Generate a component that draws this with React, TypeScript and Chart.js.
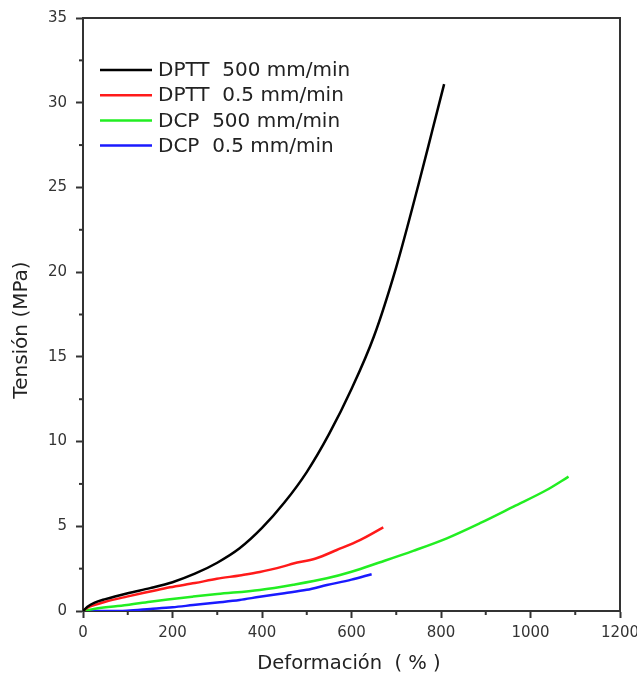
import React, { useEffect, useRef } from "react";
import { Chart, registerables } from "chart.js";

Chart.register(...registerables);

const xTicksStep = 200;
const yTicksStep = 5;

const dptt500X = [0, 10, 25, 50, 100, 150, 200, 250, 300, 350, 400, 450, 500, 550, 600, 650, 700, 750, 780, 807];
const dptt500Y = [0, 0.25, 0.48, 0.7, 1.05, 1.35, 1.7, 2.2, 2.85, 3.7, 4.9, 6.4, 8.2, 10.45, 13.1, 16.2, 20.3, 25.2, 28.3, 31.1];

const dptt05X = [0, 10, 25, 50, 98, 150, 194, 250, 299, 350, 395, 450, 470, 520, 567, 620, 671];
const dptt05Y = [0, 0.2, 0.35, 0.55, 0.85, 1.15, 1.4, 1.65, 1.9, 2.1, 2.3, 2.65, 2.8, 3.1, 3.6, 4.2, 4.94];

const dcp500X = [0, 30, 98, 150, 246, 300, 395, 470, 545, 600, 664, 738, 813, 887, 962, 1036, 1085];
const dcp500Y = [0, 0.15, 0.35, 0.55, 0.85, 1.0, 1.24, 1.55, 1.93, 2.32, 2.88, 3.55, 4.29, 5.18, 6.16, 7.14, 7.93];

const dcp05X = [0, 50, 98, 150, 200, 246, 300, 350, 395, 450, 500, 545, 600, 645];
const dcp05Y = [0, 0, 0.02, 0.12, 0.22, 0.35, 0.5, 0.65, 0.84, 1.05, 1.25, 1.53, 1.85, 2.17];

const seriesLabels = ["DPTT  500 mm/min", "DPTT  0.5 mm/min", "DCP  500 mm/min", "DCP  0.5 mm/min"];
const seriesColors = ["#000000", "#ff1a1a", "#22ee22", "#1a1aff"];

const xTitle = "Deformación  ( % )";
const yTitle = "Tensión (MPa)";

const FONT = "'DejaVu Sans', sans-serif";
const AXIS = "#333333";

const toPts = (xs: number[], ys: number[]) => xs.map((x, i) => ({ x, y: ys[i] }));

const extrasPlugin = {
  id: "extras",
  afterDraw(chart: any) {
    const { ctx, chartArea } = chart;
    const xs = chart.scales.x;
    const ys = chart.scales.y;
    ctx.save();
    ctx.strokeStyle = AXIS;
    ctx.lineWidth = 2;
    ctx.beginPath();
    ctx.moveTo(chartArea.left, chartArea.top);
    ctx.lineTo(chartArea.right, chartArea.top);
    ctx.lineTo(chartArea.right, chartArea.bottom);
    ctx.stroke();
    for (let v = xTicksStep / 2; v < 1200; v += xTicksStep) {
      const px = xs.getPixelForValue(v);
      ctx.beginPath();
      ctx.moveTo(px, chartArea.bottom);
      ctx.lineTo(px, chartArea.bottom + 4);
      ctx.stroke();
    }
    for (let v = yTicksStep / 2; v < 35; v += yTicksStep) {
      const py = ys.getPixelForValue(v);
      ctx.beginPath();
      ctx.moveTo(chartArea.left, py);
      ctx.lineTo(chartArea.left - 4, py);
      ctx.stroke();
    }
    ctx.font = `20px ${FONT}`;
    ctx.textBaseline = "middle";
    ctx.textAlign = "left";
    seriesLabels.forEach((lab, i) => {
      const y = 70 + i * 25.2;
      ctx.strokeStyle = seriesColors[i];
      ctx.lineWidth = 2.5;
      ctx.beginPath();
      ctx.moveTo(100, y);
      ctx.lineTo(152, y);
      ctx.stroke();
      ctx.fillStyle = "#222";
      ctx.fillText(lab, 158, y + 1);
    });
    ctx.fillStyle = "#222";
    ctx.font = `19.5px ${FONT}`;
    ctx.textAlign = "center";
    ctx.fillText(xTitle, 349, 664);
    ctx.font = `20px ${FONT}`;
    ctx.translate(22, 330);
    ctx.rotate(-Math.PI / 2);
    ctx.fillText(yTitle, 0, 0);
    ctx.restore();
  },
};

export default function App() {
  const ref = useRef<HTMLCanvasElement | null>(null);
  useEffect(() => {
    if (!ref.current) return;
    const mk = (i: number, xs: number[], ys: number[]) => ({
      label: seriesLabels[i],
      data: toPts(xs, ys),
      borderColor: seriesColors[i],
      backgroundColor: seriesColors[i],
      borderWidth: 2.5,
      pointRadius: 0,
      cubicInterpolationMode: "monotone" as const,
      fill: false,
    });
    const tickFont = { family: FONT, size: 15 };
    const chart = new Chart(ref.current, {
      type: "line",
      data: {
        datasets: [
          mk(0, dptt500X, dptt500Y),
          mk(1, dptt05X, dptt05Y),
          mk(2, dcp500X, dcp500Y),
          mk(3, dcp05X, dcp05Y),
        ],
      },
      plugins: [extrasPlugin],
      options: {
        animation: false,
        responsive: true,
        maintainAspectRatio: false,
        layout: { padding: { top: 18, right: 17, left: 0, bottom: 0 } },
        plugins: { legend: { display: false }, tooltip: { enabled: false } },
        scales: {
          x: {
            type: "linear",
            min: 0,
            max: 1200,
            ticks: { stepSize: xTicksStep, font: tickFont, color: AXIS, padding: 6, maxRotation: 0, callback: (v: any) => String(v) },
            grid: { display: true, drawOnChartArea: false, drawTicks: true, tickLength: 7, tickWidth: 2, tickColor: AXIS },
            border: { display: true, color: AXIS, width: 2 },
            afterFit: (s: any) => {
              s.height = 66;
              s.paddingLeft = 0;
              s.paddingRight = 0;
            },
          },
          y: {
            type: "linear",
            min: 0,
            max: 35,
            ticks: { stepSize: yTicksStep, font: tickFont, color: AXIS, padding: 9, callback: (v: any) => String(v) },
            grid: { display: true, drawOnChartArea: false, drawTicks: true, tickLength: 7, tickWidth: 2, tickColor: AXIS },
            border: { display: true, color: AXIS, width: 2 },
            afterFit: (s: any) => {
              s.width = 83;
              s.paddingTop = 0;
              s.paddingBottom = 0;
            },
          },
        },
      },
    });
    return () => chart.destroy();
  }, []);
  return (
    <div style={{ position: "fixed", left: 0, top: 0, width: 637, height: 677, background: "#fff" }}>
      <canvas ref={ref} />
    </div>
  );
}
